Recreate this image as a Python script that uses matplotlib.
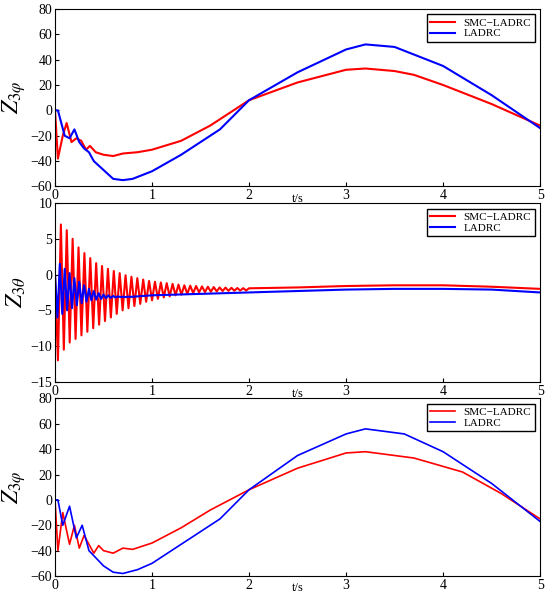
import numpy as np
import matplotlib
matplotlib.use("Agg")
import matplotlib.pyplot as plt

plt.rcParams['font.family'] = ['Liberation Serif', 'DejaVu Serif']
plt.rcParams['mathtext.fontset'] = 'stix'

# Panel 1
t1_red = [0, 0.03, 0.08, 0.12, 0.17, 0.22, 0.27, 0.32, 0.36, 0.42, 0.5, 0.6, 0.7, 0.85, 1.0, 1.3, 1.6, 2.0, 2.5, 3.0, 3.2, 3.5, 3.7, 4.0, 4.5, 5.0]
z1_red = [0, -38, -20, -10, -25, -22, -24, -31, -28, -33, -35, -36, -34, -33, -31, -24, -12, 8, 22, 32, 33, 31, 28, 20, 5, -12]
t1_blue = [0, 0.03, 0.1, 0.15, 0.2, 0.25, 0.3, 0.35, 0.4, 0.5, 0.6, 0.7, 0.8, 1.0, 1.3, 1.7, 2.0, 2.5, 3.0, 3.2, 3.5, 4.0, 4.5, 5.0]
z1_blue = [0, 0, -20, -22, -15, -25, -30, -33, -40, -47, -54, -55, -54, -48, -35, -15, 8, 30, 48, 52, 50, 35, 12, -14]

# Panel 2: peaks and troughs of the oscillation, then slow tail
red_peaks = [7, 6.2, 5, 3.8, 3, 2.3, 1.6, 1.2, 0.8, 0.5, 0.2, -0.1, -0.3, -0.5, -0.7, -0.9, -1.0, -1.1, -1.2, -1.3,
             -1.4, -1.5, -1.55, -1.6, -1.65, -1.7, -1.75, -1.8, -1.82, -1.85, -1.88, -1.9, -1.92]
red_troughs = [-12, -10.5, -9.5, -9, -8.5, -8, -7.5, -7, -6.5, -6, -5.5, -5, -4.7, -4.4, -4.1, -3.8, -3.6, -3.4, -3.2,
               -3.05, -2.9, -2.8, -2.7, -2.6, -2.5, -2.45, -2.4, -2.35, -2.3, -2.28, -2.26, -2.24, -2.22]
t2_red_tail = [2.0, 2.5, 3.0, 3.5, 4.0, 4.5, 5.0]
z2_red_tail = [-2.0, -1.8, -1.6, -1.5, -1.5, -1.7, -2.0]
blue_peaks = [1.5, 0.8, 0.2, -0.5, -1, -1.5, -2, -2.3, -2.6, -2.8, -2.9, -3.0, -3.05, -3.1, -3.1, -3.1]
blue_troughs = [-6, -5.5, -5, -4.7, -4.3, -4, -3.8, -3.6, -3.5, -3.4, -3.3, -3.25, -3.2, -3.15, -3.15, -3.12]
t2_blue_tail = [1.0, 1.5, 2.0, 2.5, 3.0, 3.5, 4.0, 4.5, 5.0]
z2_blue_tail = [-2.9, -2.7, -2.5, -2.3, -2.1, -2.0, -2.0, -2.1, -2.5]

# Panel 3
t3_red = [0, 0.03, 0.08, 0.15, 0.2, 0.25, 0.3, 0.4, 0.45, 0.5, 0.6, 0.7, 0.8, 1.0, 1.3, 1.6, 2.0, 2.5, 3.0, 3.2, 3.7, 4.2, 4.6, 5.0]
z3_red = [0, -40, -10, -35, -20, -38, -28, -42, -36, -40, -42, -38, -39, -34, -22, -8, 8, 25, 37, 38, 33, 22, 5, -15]
t3_blue = [0, 0.03, 0.08, 0.15, 0.22, 0.28, 0.35, 0.5, 0.6, 0.7, 0.85, 1.0, 1.3, 1.7, 2.0, 2.5, 3.0, 3.2, 3.6, 4.0, 4.5, 5.0]
z3_blue = [0, 0, -20, -5, -30, -20, -40, -52, -57, -58, -55, -50, -35, -15, 8, 35, 52, 56, 52, 38, 13, -17]

fig = plt.figure(figsize=(5.5, 5.92), dpi=100)
axes_pos = [[0.1, 0.685, 0.882, 0.3], [0.1, 0.355, 0.882, 0.302], [0.1, 0.027, 0.882, 0.3]]
axes = [fig.add_axes(p) for p in axes_pos]

def style(ax, ylim, yticks, ylabel):
    ax.set_xlim(0, 5)
    ax.set_ylim(*ylim)
    ax.set_yticks(yticks)
    ax.set_xticks([0, 1, 2, 3, 4, 5])
    ax.tick_params(direction='in', labelsize=10, length=3, pad=2)
    ax.set_ylabel(ylabel, fontsize=17, labelpad=2)
    ax.text(2.5, ylim[0] - (ylim[1] - ylim[0]) * 0.035, 't/s', ha='center', va='top', fontsize=9)
    ax.legend(loc='upper right', fontsize=8, frameon=True, fancybox=False, edgecolor='black',
              handlelength=2.2, borderpad=0.3, labelspacing=0.1, framealpha=1)

ax = axes[0]
ax.plot(t1_red, z1_red, color='red', lw=1.5, label='SMC−LADRC')
ax.plot(t1_blue, z1_blue, color='blue', lw=1.5, label='LADRC')
style(ax, (-60, 80), range(-60, 81, 20), r'$Z_{3\varphi}$')

ax = axes[1]
red_ext = [0] + [v for pair in zip(red_troughs, red_peaks) for v in pair]
tr = np.linspace(0, 2.0, len(red_ext))
ax.plot(np.concatenate([tr, t2_red_tail[1:]]), red_ext + z2_red_tail[1:], color='red', lw=1.5, label='SMC−LADRC')
blue_ext = [0] + [v for pair in zip(blue_troughs, blue_peaks) for v in pair]
tb = np.linspace(0, 0.8, len(blue_ext))
ax.plot(np.concatenate([tb, t2_blue_tail]), blue_ext + z2_blue_tail, color='blue', lw=1.5, label='LADRC')
style(ax, (-15, 10), range(-15, 11, 5), r'$Z_{3\theta}$')

ax = axes[2]
ax.plot(t3_red, z3_red, color='red', lw=1.2, label='SMC−LADRC')
ax.plot(t3_blue, z3_blue, color='blue', lw=1.2, label='LADRC')
style(ax, (-60, 80), range(-60, 81, 20), r'$Z_{3\varphi}$')

fig.savefig('out.png', dpi=100)
